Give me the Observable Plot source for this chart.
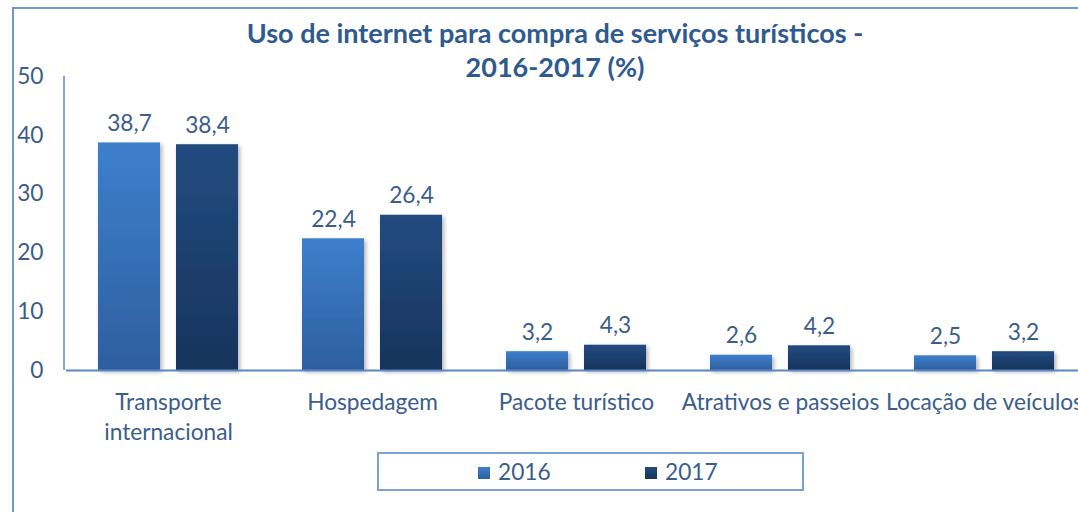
<!DOCTYPE html>
<html>
<head>
<meta charset="utf-8">
<script src="https://cdn.jsdelivr.net/npm/d3@7"></script>
<script src="https://cdn.jsdelivr.net/npm/@observablehq/plot@0.6"></script>
<style>
html, body { margin: 0; padding: 0; overflow: hidden; background: #fff; }
#wrap { position: relative; width: 1078px; height: 512px; overflow: hidden; font-family: Lato, "Open Sans", sans-serif; }
#frame { position: absolute; left: 12px; top: 7px; width: 1200px; height: 700px; border: 2px solid #7399cb; box-sizing: border-box; }
#chart { position: absolute; left: 0; top: 0; }
#title { position: absolute; left: 0; top: 16px; width: 1110px; text-align: center; font-weight: bold; font-size: 27px; line-height: 34px; color: #2e5a8f; }
#legend { position: absolute; left: 377px; top: 452px; width: 427px; height: 39px; border: 2px solid #7ba0d2; box-sizing: border-box; }
.sw { position: absolute; top: 13px; width: 12px; height: 12px; }
.lt { position: absolute; top: 3px; font-size: 22.7px; line-height: 30px; color: #3a5d8c; }
</style>
</head>
<body>
<div id="wrap">
  <div id="frame"></div>
  <div id="chart"></div>
  <div id="title">Uso de internet para compra de serviços turísticos -<br>2016-2017 (%)</div>
  <div id="legend"></div>
</div>
<script>
const categories = ["Transporte internacional", "Hospedagem", "Pacote turístico", "Atrativos e passeios", "Locação de veículos"];
const tickLabels = ["Transporte\ninternacional", "Hospedagem", "Pacote turístico", "Atrativos e passeios", "Locação de veículos"];
const years = ["2016", "2017"];
const values2016 = [38.7, 22.4, 3.2, 2.6, 2.5];
const values2017 = [38.4, 26.4, 4.3, 4.2, 3.2];
const yTicks = [0, 10, 20, 30, 40, 50];
const colors = {
  "2016": ["#3d7fcc", "#2d5f9f"],
  "2017": ["#234b80", "#16345c"]
};

const data = [];
categories.forEach((c, i) => {
  data.push({cat: c, year: "2016", value: values2016[i]});
  data.push({cat: c, year: "2017", value: values2017[i]});
});

const fmt = v => String(v.toFixed(1)).replace(".", ",");
const textColor = "#3a5d8c";
const lineColor = "#5b87c2";
const fs = 22.7;

const plot = Plot.plot({
  width: 1078,
  height: 512,
  marginTop: 76,
  marginBottom: 142,
  marginLeft: 64,
  marginRight: -10.5,
  style: {fontFamily: "Lato, 'Open Sans', sans-serif", background: "transparent", overflow: "visible"},
  fx: {domain: categories, padding: 0, label: null, axis: null},
  x: {domain: years, paddingInner: 0.2025, paddingOuter: 0.4, axis: null},
  y: {domain: [0, 50], axis: null},
  color: {type: "ordinal", domain: years, range: years.map(y => `url(#grad${y})`)},
  marks: [
    Plot.axisY({ticks: yTicks, tickSize: 0, tickPadding: 23, fontSize: fs, color: textColor, tickFormat: d => String(d), label: null}),
    Plot.axisFx({anchor: "bottom", tickSize: 0, tickPadding: 19, fontSize: fs, lineHeight: 1.3, color: textColor, tickFormat: d => tickLabels[categories.indexOf(d)], label: null}),
    Plot.barY(data, {fx: "cat", x: "year", y: "value", fill: "year"}),
    Plot.ruleY([0], {stroke: lineColor, strokeWidth: 2}),
    Plot.text(data, {fx: "cat", x: "year", y: "value", text: d => fmt(d.value), dy: -12, lineAnchor: "bottom", fontSize: fs, fill: textColor})
  ]
});

const svg = d3.select(plot);
const defs = svg.insert("defs", ":first-child");
years.forEach(y => {
  const g = defs.append("linearGradient").attr("id", `grad${y}`).attr("x1", 0).attr("y1", 0).attr("x2", 0).attr("y2", 1);
  g.append("stop").attr("offset", "0%").attr("stop-color", colors[y][0]);
  g.append("stop").attr("offset", "100%").attr("stop-color", colors[y][1]);
});
const f = defs.append("filter").attr("id", "shadow").attr("x", "-20%").attr("y", "-20%").attr("width", "150%").attr("height", "150%");
f.append("feDropShadow").attr("dx", 2).attr("dy", 2).attr("stdDeviation", 2).attr("flood-color", "#000").attr("flood-opacity", 0.3);
svg.selectAll("g[aria-label='bar'] rect").attr("filter", "url(#shadow)");

// y axis line: drawn from the y scale
const ys = plot.scale("y");
const yx = 64;
svg.append("line")
  .attr("x1", yx).attr("x2", yx)
  .attr("y1", ys.apply(0)).attr("y2", ys.apply(50))
  .attr("stroke", lineColor).attr("stroke-width", 1.5);

document.getElementById("chart").appendChild(plot);

const legend = document.getElementById("legend");
const legendPos = [[99, 119], [266, 286]];
years.forEach((y, i) => {
  const sw = document.createElement("div");
  sw.className = "sw";
  sw.style.left = legendPos[i][0] + "px";
  sw.style.background = `linear-gradient(${colors[y][0]}, ${colors[y][1]})`;
  legend.appendChild(sw);
  const t = document.createElement("div");
  t.className = "lt";
  t.style.left = legendPos[i][1] + "px";
  t.textContent = y;
  legend.appendChild(t);
});
</script>
</body>
</html>
